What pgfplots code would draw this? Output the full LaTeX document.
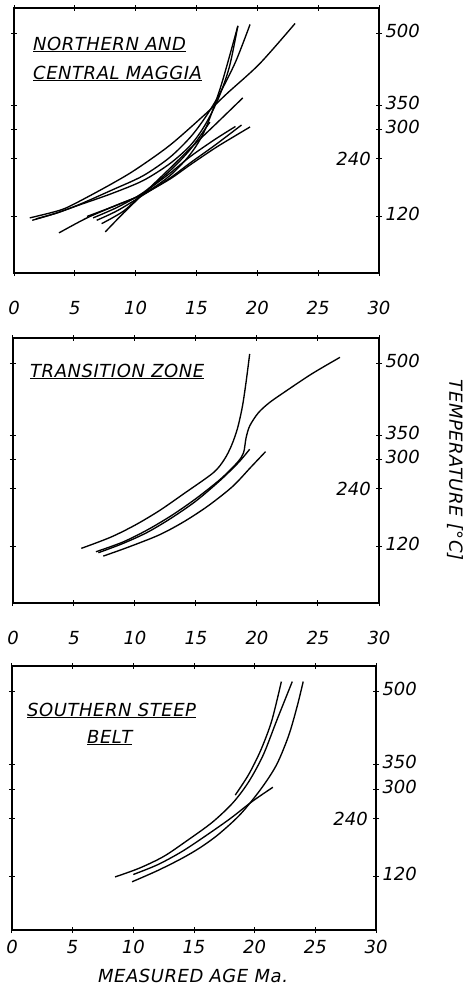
\documentclass[border=0pt]{standalone}
\usepackage{fontspec}
\setmainfont{DejaVu Sans}
\usepackage{pgfplots}
\pgfplotsset{compat=1.18}
\begin{document}
\begin{tikzpicture}[x=1pt,y=1pt]
\path[use as bounding box] (0pt,0pt) rectangle (463pt,-985pt);
\pgfplotsset{
 panel/.style={
  scale only axis, xmin=0, xmax=30,
  xtick={0,5,...,30}, ytick={120,240,300,350,500},
  yticklabels={120,,300,350,500},
  yticklabel pos=right,
  tick align=center, major tick length=6pt,
  tick style={line width=1pt,black},
  axis line style={line width=1.8pt},
  ticklabel style={font=\fontsize{18}{18}\selectfont\itshape},
  typeset ticklabels with strut,
  /pgf/number format/assume math mode=true,
  clip=false,
 },
 cur/.style={black, line width=1.35pt, smooth, no markers},
}
\newcommand{\lbl}{\fontsize{18}{18}\selectfont\itshape\addfontfeatures{LetterSpace=3}}
\newcommand{\tkl}{\fontsize{18}{18}\selectfont\itshape}
% ---------- Panel 1 ----------
\begin{axis}[panel, at={(14pt,-8pt)}, anchor=north west, width=365pt, height=265pt,
  ymin=4, ymax=552, xticklabel style={yshift=-22pt}]
\addplot[cur] coordinates {(1.3,118) (3.8,134) (5.2,150) (8,188) (10,218) (12.8,268) (15.7,332) (17.5,375) (20.2,437) (23.1,520)};
\addplot[cur] coordinates {(1.5,113) (3.5,128) (5.4,146) (8,175) (10.6,205) (12.8,243) (14.5,285) (15.7,325) (16.8,370) (18.2,440) (19.4,518)};
\addplot[cur] coordinates {(1.8,116) (3.5,128) (5.4,145) (8,168) (10.6,195) (12.8,230) (14.5,268) (15.7,310) (16.8,365) (17.7,430) (18.4,515)};
\addplot[cur] coordinates {(7.5,89) (9,128) (10.6,167) (12.8,220) (14.5,262) (16.5,310) (18.8,366)};
\addplot[cur] coordinates {(3.7,87) (6,118) (8.5,145) (10.6,167) (12.8,205) (14.5,250) (15.7,300) (17,390) (18.4,515)};
\addplot[cur] coordinates {(6,121) (8,140) (10.6,167) (12.8,198) (14.5,228) (16.5,262) (18,285) (19.4,306)};
\addplot[cur] coordinates {(6.8,113) (8.5,133) (10.6,165) (12.8,200) (14.5,232) (16.5,268) (18.7,310)};
\addplot[cur] coordinates {(7.2,106) (9,132) (10.6,168) (12.8,210) (14.5,245) (16.5,280) (18.2,307)};
\addplot[cur] coordinates {(6.5,118) (8.5,140) (10.6,170) (12.8,215) (14.5,260) (16.1,316)};
\node[anchor=east, inner sep=0pt, font=\tkl] at (axis cs:30,240) [xshift=-8pt] {240};
\end{axis}
\node[anchor=base west, inner sep=0pt, font=\lbl] at (33pt,-50pt) {\underline{NORTHERN AND}};
\node[anchor=base west, inner sep=0pt, font=\lbl] at (33pt,-79pt) {\underline{CENTRAL MAGGIA}};
% ---------- Panel 2 ----------
\begin{axis}[panel, at={(13pt,-338pt)}, anchor=north west, width=366pt, height=265pt,
  ymin=4, ymax=552, xticklabel style={yshift=-22pt}]
\addplot[cur] coordinates {(5.6,117) (8,140) (10,165) (12,195) (14,230) (16.4,273) (17.3,300) (17.9,329) (18.4,365) (18.8,410) (19.1,460) (19.4,519)};
\addplot[cur] coordinates {(6.8,110) (9,130) (11,155) (13,185) (15,220) (17,260) (18.4,295) (18.9,315) (19.1,345) (19.4,370) (20.1,397) (21,418) (22.3,441) (24.5,478) (26.8,512)};
\addplot[cur] coordinates {(7,108) (9,127) (11,150) (13,180) (15,215) (17,258) (18.5,295) (19.4,322)};
\addplot[cur] coordinates {(7.4,101) (9.5,120) (12,145) (14,172) (16,205) (18,245) (19.5,285) (20.7,317)};
\node[anchor=east, inner sep=0pt, font=\tkl] at (axis cs:30,240) [xshift=-8pt] {240};
\end{axis}
\node[anchor=base west, inner sep=0pt, font=\lbl] at (30pt,-377pt) {\underline{TRANSITION ZONE}};
\node[rotate=-90, inner sep=0pt, font=\lbl] at (455pt,-470pt) {TEMPERATURE [°C]};
% ---------- Panel 3 ----------
\begin{axis}[panel, at={(12pt,-666pt)}, anchor=north west, width=364pt, height=264pt,
  ymin=11, ymax=553, xticklabel style={yshift=-4pt}]
\addplot[cur] coordinates {(18.4,288) (19.5,330) (20.5,380) (21.4,440) (22.2,521)};
\addplot[cur] coordinates {(8.5,120) (10.5,138) (12.5,162) (14.4,194) (16.5,232) (18.2,272) (19.5,315) (20.7,370) (21.8,440) (23.1,521)};
\addplot[cur] coordinates {(9.9,110) (12,133) (14,158) (15.5,180) (17,207) (18.8,248) (20.5,300) (21.8,350) (22.8,410) (23.5,470) (24.0,521)};
\addplot[cur] coordinates {(10,125) (12,145) (14,172) (16,205) (18,240) (19.8,275) (21.5,304)};
\node[anchor=east, inner sep=0pt, font=\tkl] at (axis cs:30,240) [xshift=-8pt] {240};
\end{axis}
\node[anchor=base west, inner sep=0pt, font=\lbl] at (27pt,-716pt) {\underline{SOUTHERN STEEP}};
\node[anchor=base west, inner sep=0pt, font=\lbl] at (87pt,-743pt) {\underline{BELT}};
\node[inner sep=0pt, font=\lbl] at (193pt,-976pt) {MEASURED AGE Ma.};
\end{tikzpicture}
\end{document}
